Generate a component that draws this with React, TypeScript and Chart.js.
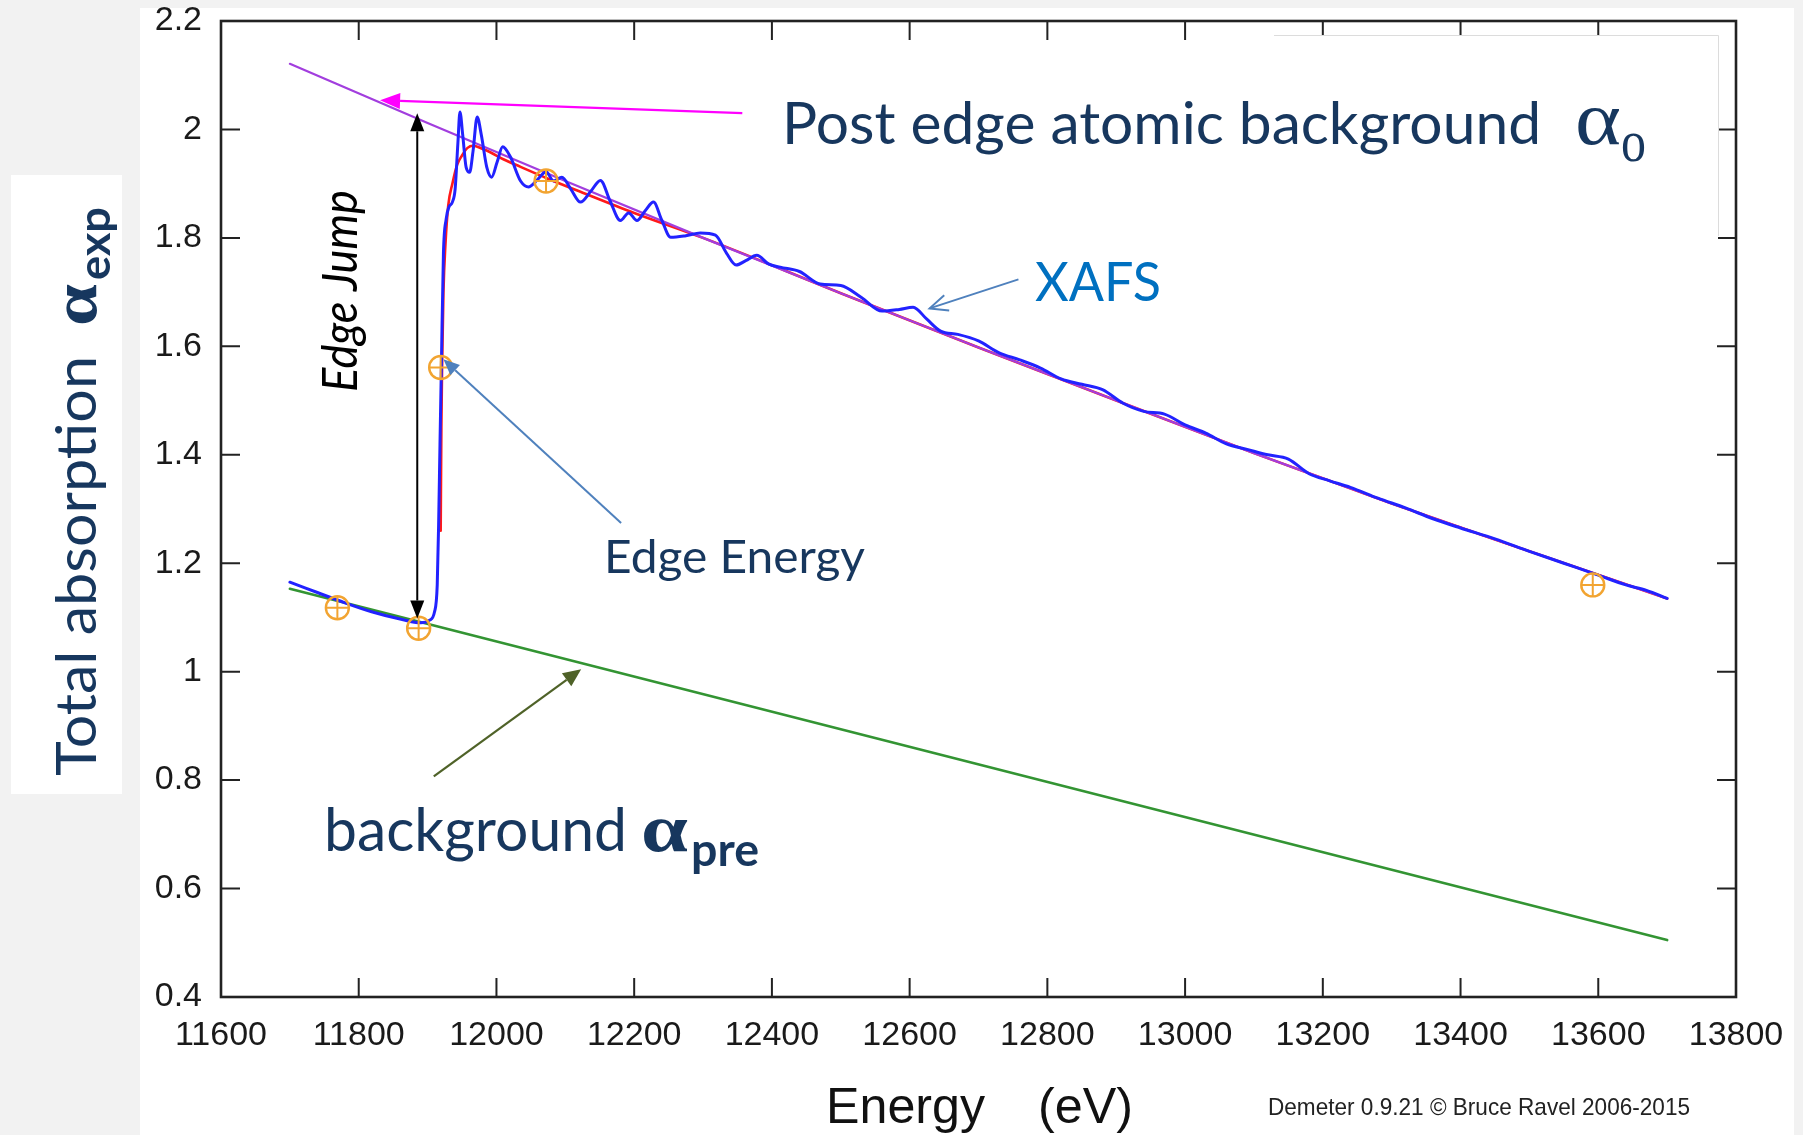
import { useEffect, useRef } from "react";
import { Chart, registerables } from "chart.js";

Chart.register(...registerables);

const W = 1803;
const H = 1135;

// ---------- axes ----------
const X_MIN = 11600;
const X_MAX = 13800;
const X_STEP = 200;
const Y_MIN = 0.4;
const Y_MAX = 2.2;
const Y_STEP = 0.2;

// ---------- data (energy eV, absorption) ----------
const preEdgeE = [11700, 13700];
const preEdgeMu = [1.153, 0.505];

const postEdgeE = [11700, 11900, 12100, 12300, 12500, 12700, 12900, 13100, 13300, 13500, 13700];
const postEdgeMu = [2.121, 2.012, 1.905, 1.8, 1.698, 1.598, 1.5, 1.403, 1.31, 1.222, 1.135];

const bkgE = [11919, 11920, 11921, 11923, 11926, 11930, 11936, 11943, 11950, 11958, 11966, 11980, 11991, 12010, 12035, 12073, 12122, 12200, 12300, 12500, 12700, 12900, 13100, 13300, 13500, 13700];
const bkgMu = [1.26, 1.45, 1.56, 1.7, 1.79, 1.86, 1.9, 1.935, 1.952, 1.966, 1.97, 1.964, 1.958, 1.945, 1.931, 1.91, 1.885, 1.846, 1.8, 1.698, 1.598, 1.5, 1.403, 1.31, 1.222, 1.135];

const xafsE = [
  11700, 11740, 11780, 11820, 11860, 11890, 11903, 11910, 11914, 11916, 11918, 11920, 11923, 11927, 11931, 11936,
  11940, 11944, 11947, 11951, 11956, 11961, 11966, 11972, 11978, 11986, 11993, 12001, 12009, 12020, 12035, 12047,
  12060, 12072, 12083, 12095, 12108, 12122, 12137, 12151, 12165, 12180, 12192, 12204, 12216, 12228, 12240, 12253,
  12275, 12296, 12318, 12334, 12348, 12362, 12378, 12395, 12412, 12440, 12470, 12500, 12530, 12560, 12585, 12605,
  12625, 12645, 12670, 12700, 12730, 12760, 12790, 12820, 12850, 12880, 12910, 12940, 12970, 13000, 13030, 13060,
  13090, 13120, 13150, 13180, 13210, 13240, 13280, 13320, 13360, 13400, 13450, 13500, 13550, 13600, 13640, 13670,
  13700,
];
const xafsMu = [
  1.165, 1.146, 1.127, 1.11, 1.097, 1.09, 1.095, 1.11, 1.16, 1.27, 1.42, 1.562, 1.771, 1.835, 1.857, 1.866,
  1.89, 1.975, 2.032, 1.99, 1.93, 1.921, 1.96, 2.023, 1.99, 1.93, 1.912, 1.94, 1.968, 1.95, 1.905, 1.894,
  1.908, 1.922, 1.905, 1.912, 1.89, 1.866, 1.886, 1.906, 1.868, 1.832, 1.846, 1.832, 1.85, 1.866, 1.833, 1.801,
  1.804, 1.809, 1.805, 1.772, 1.75, 1.758, 1.768, 1.752, 1.746, 1.738, 1.715, 1.712, 1.69, 1.665, 1.668, 1.672,
  1.65, 1.628, 1.622, 1.61, 1.588, 1.575, 1.56, 1.54, 1.53, 1.52, 1.495, 1.48, 1.475, 1.455, 1.44, 1.42,
  1.41, 1.4, 1.392, 1.365, 1.352, 1.34, 1.32, 1.302, 1.282, 1.265, 1.245, 1.222, 1.2, 1.178, 1.16, 1.15,
  1.135,
];

const markerE = [11769, 11887, 11919, 12072, 13592];
const markerMu = [1.118, 1.08, 1.561, 1.905, 1.16];

// ---------- annotation text ----------
const TXT_POST = "Post edge atomic background";
const TXT_XAFS = "XAFS";
const TXT_EDGE_E = "Edge Energy";
const TXT_BKG = "background";
const TXT_JUMP = "Edge Jump";
const TXT_YLABEL = "Total absorption";
const TXT_XLABEL_1 = "Energy";
const TXT_XLABEL_2 = "(eV)";
const TXT_CREDIT = "Demeter 0.9.21 \u00a9 Bruce Ravel 2006-2015";

// ---------- styles ----------
const NAVY = "#17375e";
const ORANGE = "#f2a431";
const PAGE_BG = "#f2f2f2";

const toXY = (xs: number[], ys: number[]) => xs.map((x, i) => ({ x, y: ys[i] }));

function fitText(
  ctx: CanvasRenderingContext2D,
  text: string,
  x: number,
  y: number,
  font: string,
  width: number,
  color: string
) {
  ctx.save();
  ctx.font = font;
  const m = ctx.measureText(text).width || 1;
  const s = width / m;
  ctx.translate(x, y);
  ctx.scale(s, 1);
  ctx.fillStyle = color;
  ctx.textAlign = "left";
  ctx.textBaseline = "alphabetic";
  ctx.fillText(text, 0, 0);
  ctx.restore();
}

function rotText(
  ctx: CanvasRenderingContext2D,
  text: string,
  baseX: number,
  startY: number,
  font: string,
  width: number,
  color: string
) {
  ctx.save();
  ctx.translate(baseX, startY);
  ctx.rotate(-Math.PI / 2);
  fitText(ctx, text, 0, 0, font, width, color);
  ctx.restore();
}

function arrowHead(
  ctx: CanvasRenderingContext2D,
  fx: number,
  fy: number,
  tx: number,
  ty: number,
  len: number,
  half: number,
  color: string,
  filled: boolean,
  lw: number
) {
  const a = Math.atan2(ty - fy, tx - fx);
  const bx = tx - len * Math.cos(a);
  const by = ty - len * Math.sin(a);
  const px = -Math.sin(a) * half;
  const py = Math.cos(a) * half;
  ctx.beginPath();
  ctx.moveTo(bx + px, by + py);
  ctx.lineTo(tx, ty);
  ctx.lineTo(bx - px, by - py);
  if (filled) {
    ctx.closePath();
    ctx.fillStyle = color;
    ctx.fill();
  } else {
    ctx.strokeStyle = color;
    ctx.lineWidth = lw;
    ctx.stroke();
  }
  return { bx, by };
}

function arrow(
  ctx: CanvasRenderingContext2D,
  x1: number,
  y1: number,
  x2: number,
  y2: number,
  color: string,
  lw: number,
  len: number,
  half: number,
  filled = true,
  both = false
) {
  ctx.save();
  ctx.lineCap = "butt";
  let sx = x1;
  let sy = y1;
  let ex = x2;
  let ey = y2;
  if (filled) {
    const h = arrowHead(ctx, x1, y1, x2, y2, len, half, color, true, lw);
    ex = h.bx;
    ey = h.by;
    if (both) {
      const h2 = arrowHead(ctx, x2, y2, x1, y1, len, half, color, true, lw);
      sx = h2.bx;
      sy = h2.by;
    }
  } else {
    arrowHead(ctx, x1, y1, x2, y2, len, half, color, false, lw);
  }
  ctx.beginPath();
  ctx.moveTo(sx, sy);
  ctx.lineTo(ex, ey);
  ctx.strokeStyle = color;
  ctx.lineWidth = lw;
  ctx.stroke();
  ctx.restore();
}

const decorPlugin = {
  id: "decor",
  beforeDraw(chart: any) {
    const ctx: CanvasRenderingContext2D = chart.ctx;
    ctx.save();
    ctx.fillStyle = PAGE_BG;
    ctx.fillRect(0, 0, W, H);
    ctx.fillStyle = "#ffffff";
    ctx.fillRect(140, 8, 1654, H - 8);
    ctx.fillRect(11, 175, 111, 619);
    ctx.restore();
  },
  afterDraw(chart: any) {
    const ctx: CanvasRenderingContext2D = chart.ctx;
    const { left, right, top, bottom } = chart.chartArea;
    const xs = chart.scales.x;
    const ys = chart.scales.y;
    const px = (v: number) => xs.getPixelForValue(v);
    const py = (v: number) => ys.getPixelForValue(v);

    // inward ticks
    ctx.save();
    ctx.strokeStyle = "#222";
    ctx.lineWidth = 2;
    const TL = 19;
    xs.ticks.forEach((t: any) => {
      const x = px(t.value);
      if (Math.abs(x - left) < 2 || Math.abs(x - right) < 2) return;
      ctx.beginPath();
      ctx.moveTo(x, bottom);
      ctx.lineTo(x, bottom - TL);
      ctx.moveTo(x, top);
      ctx.lineTo(x, top + TL);
      ctx.stroke();
    });
    ys.ticks.forEach((t: any) => {
      const y = py(t.value);
      if (Math.abs(y - top) < 2 || Math.abs(y - bottom) < 2) return;
      ctx.beginPath();
      ctx.moveTo(left, y);
      ctx.lineTo(left + TL, y);
      ctx.moveTo(right, y);
      ctx.lineTo(right - TL, y);
      ctx.stroke();
    });
    // frame
    ctx.lineWidth = 2.6;
    ctx.strokeRect(left, top, right - left, bottom - top);
    ctx.restore();

    // white text box at top right (only top and right edges faintly visible)
    ctx.save();
    ctx.fillStyle = "#ffffff";
    ctx.fillRect(1274, 35, 444, 215);
    ctx.strokeStyle = "#dcdcdc";
    ctx.lineWidth = 1;
    ctx.beginPath();
    ctx.moveTo(1274, 35.5);
    ctx.lineTo(1718.5, 35.5);
    ctx.lineTo(1718.5, 236);
    ctx.stroke();
    ctx.restore();

    // arrows (anchored in data space)
    arrow(ctx, px(12357), py(2.03), px(11831), py(2.054), "#ff00ff", 2.2, 20, 8, true);
    arrow(ctx, px(11885), py(2.03), px(11885), py(1.098), "#000000", 2, 18, 7, true, true);
    arrow(ctx, px(12758), py(1.7235), px(12629), py(1.67), "#4f81bd", 2, 18, 8, false);
    arrow(ctx, px(12181), py(1.274), px(11923), py(1.576), "#4f81bd", 2, 16, 7, true);
    arrow(ctx, px(11909), py(0.807), px(12123), py(1.0045), "#4f6228", 2.2, 18, 8, true);

    // annotation texts
    fitText(ctx, TXT_POST, 782, 144, "58px Lato", 759, NAVY);
    fitText(ctx, "\u03b1", 1575, 144, "76px 'Liberation Serif'", 46, NAVY);
    fitText(ctx, "o", 1621, 161, "60px 'Liberation Serif'", 25, NAVY);

    fitText(ctx, TXT_XAFS, 1035, 301, "54px Lato", 126, "#0070c0");
    fitText(ctx, TXT_EDGE_E, 604, 573, "46px Lato", 261, NAVY);

    fitText(ctx, TXT_BKG, 324, 851, "60px Lato", 303, NAVY);
    fitText(ctx, "\u03b1", 641, 851, "bold 68px 'Liberation Serif'", 47, NAVY);
    fitText(ctx, "pre", 691, 866, "bold 46px Lato", 68, NAVY);

    rotText(ctx, TXT_JUMP, 357, 392, "italic 48px Lato", 202, "#000000");

    rotText(ctx, TXT_YLABEL, 96, 776, "56px Lato", 420, NAVY);
    rotText(ctx, "\u03b1", 96, 326, "bold 64px 'Liberation Serif'", 42, NAVY);
    rotText(ctx, "exp", 110, 280, "bold 44px Lato", 73, NAVY);

    fitText(ctx, TXT_XLABEL_1, 826, 1123, "50px 'Liberation Sans'", 159, "#111111");
    fitText(ctx, TXT_XLABEL_2, 1038, 1123, "50px 'Liberation Sans'", 95, "#111111");
    fitText(ctx, TXT_CREDIT, 1268, 1115, "24px 'Liberation Sans'", 422, "#222222");
  },
};

export default function App() {
  const ref = useRef<HTMLCanvasElement | null>(null);

  useEffect(() => {
    document.body.style.margin = "0";
    document.body.style.overflow = "hidden";
    const canvas = ref.current;
    if (!canvas) return;
    const lineDs = (label: string, xs: number[], ys: number[], color: string, width: number, mono: boolean) => ({
      label,
      data: toXY(xs, ys),
      borderColor: color,
      backgroundColor: color,
      borderWidth: width,
      pointRadius: 0,
      fill: false,
      cubicInterpolationMode: mono ? ("monotone" as const) : ("default" as const),
      tension: 0,
    });
    const chart = new Chart(canvas, {
      type: "line",
      data: {
        datasets: [
          {
            label: "points-cross",
            data: toXY(markerE, markerMu),
            showLine: false,
            pointStyle: "cross",
            pointRadius: 11,
            borderColor: ORANGE,
            borderWidth: 2,
          },
          {
            label: "points",
            data: toXY(markerE, markerMu),
            showLine: false,
            pointStyle: "circle",
            pointRadius: 11.5,
            backgroundColor: "rgba(0,0,0,0)",
            borderColor: ORANGE,
            borderWidth: 2.4,
          },
          lineDs("XAFS", xafsE, xafsMu, "#2222ff", 3, true),
          lineDs("post-edge", postEdgeE, postEdgeMu, "#a23ede", 2.2, true),
          lineDs("background", bkgE, bkgMu, "#ff1a1a", 2.6, true),
          lineDs("pre-edge", preEdgeE, preEdgeMu, "#339433", 2.6, false),
        ],
      },
      options: {
        animation: false,
        responsive: false,
        devicePixelRatio: 1,
        layout: { padding: { left: 140, right: 67, top: 21, bottom: 0 } },
        plugins: { legend: { display: false }, tooltip: { enabled: false } },
        elements: { line: { borderJoinStyle: "round", borderCapStyle: "round" } },
        scales: {
          x: {
            type: "linear",
            min: X_MIN,
            max: X_MAX,
            grid: { display: false, drawTicks: false },
            border: { display: false },
            ticks: {
              stepSize: X_STEP,
              autoSkip: false,
              maxRotation: 0,
              padding: 18,
              color: "#1a1a1a",
              font: { family: "'Liberation Sans', Arial, sans-serif", size: 34 },
              callback: (v: any) => String(v),
            },
            afterFit: (s: any) => {
              s.height = 138;
              s.paddingLeft = 0;
              s.paddingRight = 0;
            },
          },
          y: {
            type: "linear",
            min: Y_MIN,
            max: Y_MAX,
            grid: { display: false, drawTicks: false },
            border: { display: false },
            ticks: {
              stepSize: Y_STEP,
              padding: 19,
              color: "#1a1a1a",
              font: { family: "'Liberation Sans', Arial, sans-serif", size: 34 },
              callback: (v: any) => String(Math.round(Number(v) * 10) / 10),
            },
            afterFit: (s: any) => {
              s.width = 81;
              s.paddingTop = 0;
              s.paddingBottom = 0;
            },
          },
        },
      },
      plugins: [decorPlugin],
    });
    return () => chart.destroy();
  }, []);

  return (
    <canvas
      ref={ref}
      width={W}
      height={H}
      style={{ position: "absolute", left: 0, top: 0, width: W + "px", height: H + "px", display: "block" }}
    />
  );
}
